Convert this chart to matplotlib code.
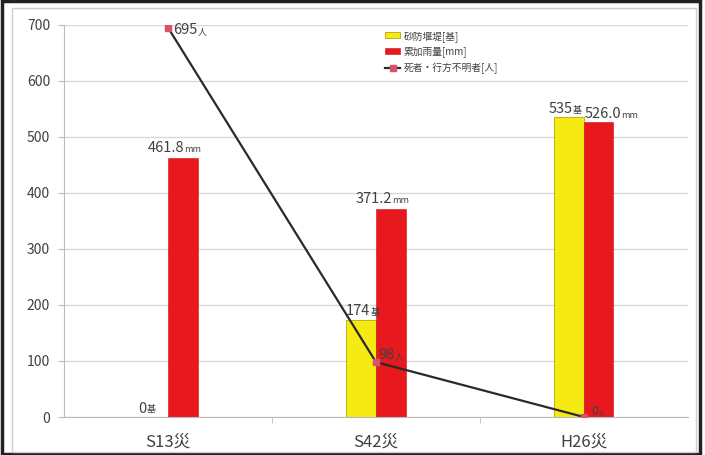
import matplotlib
matplotlib.use('Agg')
import matplotlib.pyplot as plt
from matplotlib.patches import Rectangle
import numpy as np

plt.rcParams['font.family'] = ['Noto Sans CJK JP', 'DejaVu Sans']

categories = ['S13災', 'S42災', 'H26災']
dams = [0, 174, 535]
rain = [461.8, 371.2, 526.0]
deaths = [695, 98, 0]
dam_labels = ['0', '174', '535']
rain_labels = ['461.8', '371.2', '526.0']
death_labels = ['695', '98', '0']
legend_names = ['砂防堰堤[基]', '累加雨量[mm]', '死者・行方不明者[人]']

txt_color = '#404040'
yellow = '#f5ea14'
red = '#e8191e'

fig = plt.figure(figsize=(7.05, 4.55), dpi=100)
fig.patches.append(Rectangle((0.003, 0.002), 0.99, 0.996, transform=fig.transFigure,
                             fill=False, edgecolor='#222222', linewidth=2.5))
fig.patches.append(Rectangle((0.017, 0.007), 0.97, 0.975, transform=fig.transFigure,
                             fill=False, edgecolor='#cccccc', linewidth=1))

ax = fig.add_axes([0.0908, 0.0835, 0.885, 0.862])
x = np.arange(len(categories))
w = 0.142

b1 = ax.bar(x - w / 2, dams, w, color=yellow, edgecolor='#b8a800', linewidth=0.6,
            label=legend_names[0], zorder=2)
b2 = ax.bar(x + w / 2, rain, w, color=red, edgecolor='#c81010', linewidth=0.4,
            label=legend_names[1], zorder=2)
ln, = ax.plot(x, deaths, color='#2a2a2a', linewidth=1.6, marker='s', markersize=4,
              markerfacecolor='#d8506a', markeredgecolor='#d8506a',
              label=legend_names[2], zorder=3)


def label(xv, yv, num, unit, ha='center', dx=0, dy=0, size=10.5):
    t = ax.annotate(num, xy=(xv, yv), xytext=(dx, dy), textcoords='offset points',
                    ha=ha, va='bottom', fontsize=size, color=txt_color, zorder=5)
    ax.annotate(unit, xy=(1, 0.08), xycoords=t, ha='left', va='bottom',
                fontsize=size * 0.62, color=txt_color, zorder=5)


# dam labels
label(x[0] - w / 2, dams[0], dam_labels[0], '基', dx=-8, dy=1)
label(x[1] - w / 2, dams[1], dam_labels[1], '基', dx=-2, dy=1)
label(x[2] - w / 2, dams[2], dam_labels[2], '基', dx=-6, dy=1)
# rain labels
label(x[0] + w / 2, rain[0], rain_labels[0], 'mm', dx=-12, dy=2)
label(x[1] + w / 2, rain[1], rain_labels[1], 'mm', dx=-12, dy=2)
label(x[2] + w / 2, rain[2], rain_labels[2], 'mm', dx=3, dy=1)
# death labels
label(x[0], deaths[0], death_labels[0], '人', ha='left', dx=4, dy=-7)
label(x[1], deaths[1], death_labels[1], '人', ha='left', dx=2, dy=0)
label(x[2], deaths[2], death_labels[2], '人', ha='left', dx=5, dy=-1, size=9)

ax.set_xlim(-0.5, 2.5)
ax.set_ylim(0, 700)
ax.set_yticks(range(0, 701, 100))
ax.set_xticks(x)
ax.set_xticklabels(categories, fontsize=12, color=txt_color)
ax.set_xticks([0.5, 1.5], minor=True)
ax.tick_params(axis='x', which='major', length=0, pad=12)
ax.tick_params(axis='x', which='minor', length=4, color='#bbbbbb')
ax.tick_params(axis='y', labelsize=10, labelcolor=txt_color, length=4, color='#bbbbbb', pad=6)
ax.grid(axis='y', color='#d9d9d9', linewidth=1, zorder=0)
ax.set_axisbelow(True)
for s in ['top', 'right']:
    ax.spines[s].set_visible(False)
for s in ['left', 'bottom']:
    ax.spines[s].set_color('#bbbbbb')

leg = ax.legend(handles=[b1, b2, ln], loc='upper left', bbox_to_anchor=(0.505, 1.0),
                frameon=False, fontsize=7, handlelength=1.6, handleheight=0.6,
                labelspacing=0.5, handletextpad=0.3, borderaxespad=0.2)
for t in leg.get_texts():
    t.set_color(txt_color)

fig.savefig('out.png', dpi=100)
